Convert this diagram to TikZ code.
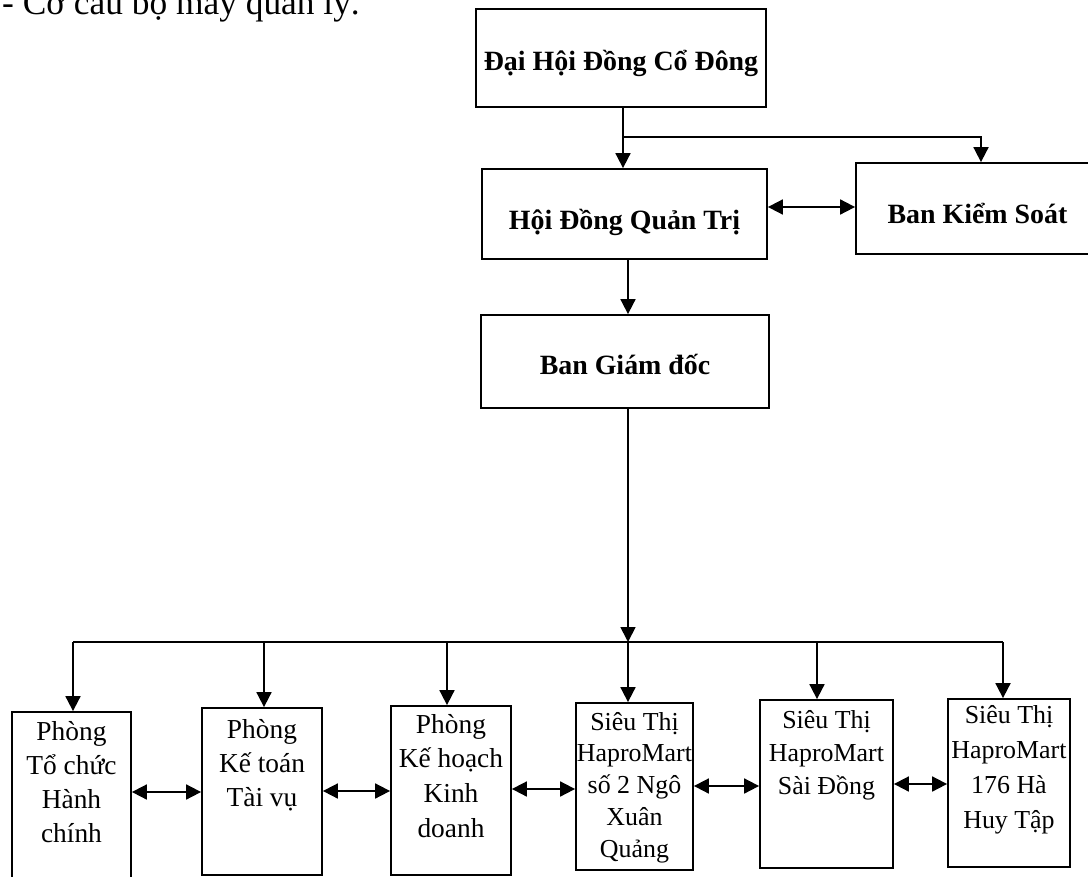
\documentclass[tikz,border=0pt]{standalone}
\usepackage{fontspec}
\setmainfont{Liberation Serif}
\usetikzlibrary{arrows.meta}
\newcommand\stk[2]{\vtop{\baselineskip=#1\lineskiplimit=-100pt\lineskip=0pt\halign{\hfil##\hfil\cr#2\crcr}}}
\begin{document}
\begin{tikzpicture}[x=1bp,y=-1bp,
  box/.style={draw, line width=1.8pt, inner sep=0pt, anchor=base},
  headbox/.style={box, font=\bfseries\fontsize{28}{32}\selectfont},
  dept/.style={box, font=\fontsize{27.5}{34}\selectfont},
  shop/.style={box, font=\fontsize{26}{33}\selectfont},
  ln/.style={line width=1.8pt},
  arr/.style={ln, -{Triangle[length=15bp,width=15bp]}},
  darr/.style={ln, {Triangle[length=15bp,width=15bp]}-{Triangle[length=15bp,width=15bp]}},
]
\useasboundingbox (0,0) rectangle (1088,877);

\node[anchor=base west, inner sep=0pt, font=\fontsize{35.5}{40}\selectfont] (title) at (2,14) {- Cơ cấu bộ máy quản lý.};

\node[headbox, minimum width=290bp, text height=61bp, text depth=37bp] (dh) at (621,70) {Đại Hội Đồng Cổ Đông};
\node[headbox, minimum width=285bp, text height=60bp, text depth=30bp] (hdqt) at (624.5,229) {Hội Đồng Quản Trị};
\node[headbox, minimum width=243bp, text height=60bp, text depth=31bp] (bks) at (977.5,223) {Ban Kiểm Soát};
\node[headbox, minimum width=288bp, text height=59bp, text depth=34bp] (bgd) at (625,374) {Ban Giám đốc};

\node[dept, minimum width=119bp, text height=28bp, text depth=150bp] (p1) at (71.5,740) {\stk{34.3bp}{Phòng\cr Tổ chức\cr Hành\cr chính}};
\node[dept, minimum width=120bp, text height=30bp, text depth=137bp] (p2) at (262,738) {\stk{34bp}{Phòng\cr Kế toán\cr Tài vụ}};
\node[dept, minimum width=120bp, text height=27bp, text depth=142bp] (p3) at (451,733) {\stk{34.7bp}{Phòng\cr Kế hoạch\cr Kinh\cr doanh}};
\node[shop, minimum width=117bp, text height=27bp, text depth=140bp] (s1) at (634.5,730) {\stk{31.8bp}{Siêu Thị\cr HaproMart\cr số 2 Ngô\cr Xuân\cr Quảng}};
\node[shop, minimum width=133bp, text height=28bp, text depth=140bp] (s2) at (826.5,728) {\stk{33bp}{Siêu Thị\cr HaproMart\cr Sài Đồng}};
\node[shop, minimum width=122bp, text height=24bp, text depth=144bp] (s3) at (1009,723) {\stk{35bp}{Siêu Thị\cr HaproMart\cr 176 Hà\cr Huy Tập}};

% top connectors
\coordinate (t1) at (623,137);
\coordinate (t2) at (981,137);
\draw[arr] (dh.south -| t1) -- (t1 |- hdqt.north);
\draw[arr] (t1) -- (t2) -- (t2 |- bks.north);
\coordinate (y0) at (0,207);
\draw[darr] (y0 -| hdqt.east) -- (y0 -| bks.west);

% bus
\coordinate (c1) at (73,642);
\coordinate (c2) at (264,642);
\coordinate (c3) at (447,642);
\coordinate (c4) at (628,642);
\coordinate (c5) at (817,642);
\coordinate (c6) at (1003,642);
\draw[arr] (hdqt.south -| c4) -- (bgd.north -| c4);
\draw[arr] (bgd.south -| c4) -- (c4);
\draw[ln] (c1) -- (c6);
\foreach \i/\n in {1/p1,2/p2,3/p3,4/s1,5/s2,6/s3}
  \draw[arr] (c\i) -- (c\i |- \n.north);

% horizontal double arrows
\coordinate (y1) at (0,792);
\coordinate (y2) at (0,791);
\coordinate (y3) at (0,789);
\coordinate (y4) at (0,786);
\coordinate (y5) at (0,784);
\draw[darr] (y1 -| p1.east) -- (y1 -| p2.west);
\draw[darr] (y2 -| p2.east) -- (y2 -| p3.west);
\draw[darr] (y3 -| p3.east) -- (y3 -| s1.west);
\draw[darr] (y4 -| s1.east) -- (y4 -| s2.west);
\draw[darr] (y5 -| s2.east) -- (y5 -| s3.west);
\end{tikzpicture}
\end{document}
